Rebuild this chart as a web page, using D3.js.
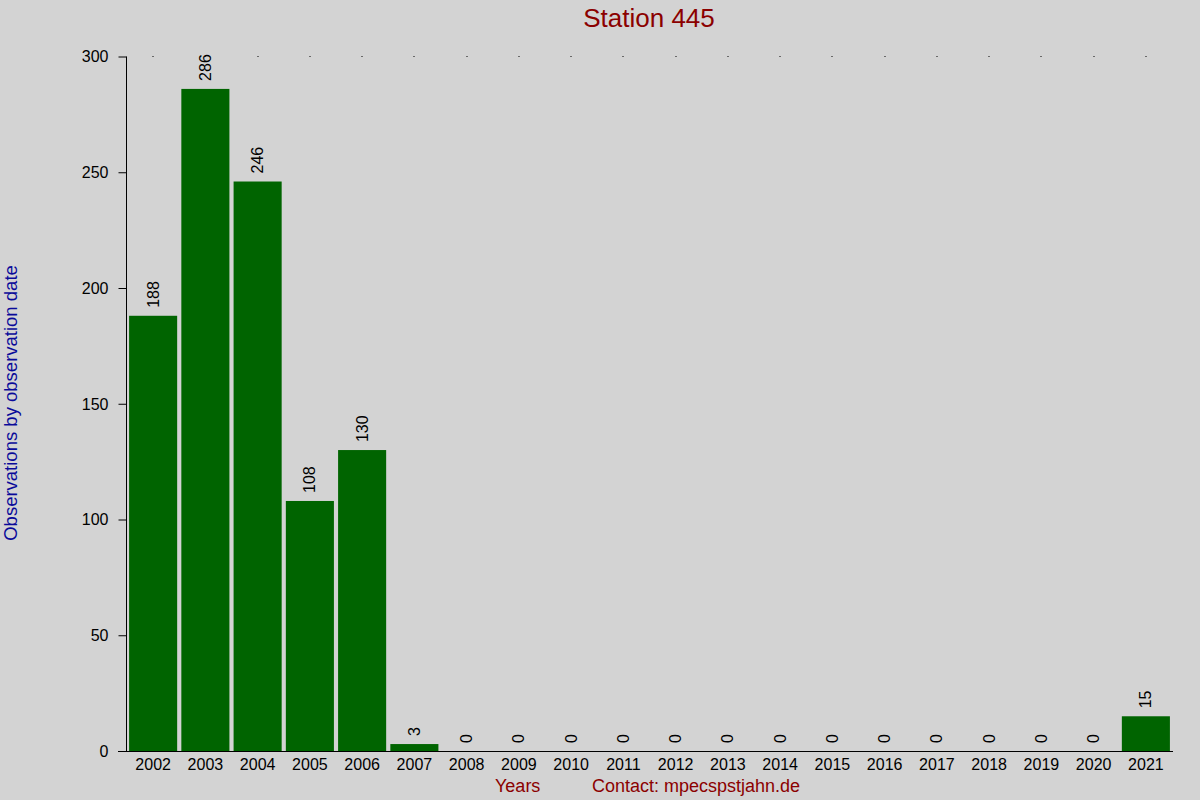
<!DOCTYPE html>
<html><head><meta charset="utf-8">
<script src="https://cdn.jsdelivr.net/npm/d3@7"></script>
<style>
html,body{margin:0;padding:0;background:#d3d3d3;}
text{font-family:"Liberation Sans",Arial,sans-serif;}
</style></head>
<body>
<svg id="chart" width="1200" height="800"></svg>
<script>
const years = ["2002","2003","2004","2005","2006","2007","2008","2009","2010","2011","2012","2013","2014","2015","2016","2017","2018","2019","2020","2021"];
const counts = [188,286,246,108,130,3,0,0,0,0,0,0,0,0,0,0,0,0,0,15];
const yTicks = [0,50,100,150,200,250,300];
const titleText = "Station 445";
const yTitle = "Observations by observation date";
const xTitle = "Years";
const contactText = "Contact: mpecspstjahn.de";

const svg = d3.select("#chart");
svg.append("rect").attr("width",1200).attr("height",800).attr("fill","#d3d3d3");

const x = d3.scaleBand().domain(years).range([127,1172]).paddingInner(0.08).paddingOuter(0.04);
const y = d3.scaleLinear().domain([0,300]).range([751,56.5]);

// bars
svg.append("g").selectAll("rect").data(years).join("rect")
  .attr("x",d=>x(d)).attr("width",x.bandwidth())
  .attr("y",(d,i)=>y(counts[i])).attr("height",(d,i)=>y(0)-y(counts[i]))
  .attr("fill","#006400");

// top dots
svg.append("g").selectAll("rect").data(years).join("rect")
  .attr("x",d=>Math.round(x(d)+x.bandwidth()/2)-0.5).attr("y",56).attr("width",1).attr("height",1)
  .attr("fill","#000");

// y axis
const yAxis = d3.axisLeft(y).tickValues(yTicks).tickSize(8).tickPadding(10).tickFormat(d3.format("d"));
const gy = svg.append("g").attr("transform","translate(126.5,0)").call(yAxis);
gy.select(".domain").attr("d","M0,"+y(300)+"V"+y(0)).attr("stroke","#000");
gy.selectAll(".tick line").attr("stroke","#000");
gy.selectAll(".tick text").attr("font-size","16px").attr("fill","#000").attr("font-family","Liberation Sans, Arial, sans-serif").attr("dy","0.33em");

// x axis
const xAxis = d3.axisBottom(x).tickSize(0).tickPadding(7.5);
const gx = svg.append("g").attr("transform","translate(0,751.5)").call(xAxis);
gx.select(".domain").attr("d","M118,0H1173").attr("stroke","#000");
gx.selectAll(".tick text").attr("font-size","16px").attr("fill","#000").attr("font-family","Liberation Sans, Arial, sans-serif");

// value labels
svg.append("g").selectAll("text").data(years).join("text")
  .attr("transform",(d,i)=>`translate(${x(d)+x.bandwidth()/2},${y(counts[i])-8}) rotate(-90)`)
  .attr("dy","0.35em").attr("text-anchor","start")
  .attr("font-size","16px").attr("fill","#000")
  .text((d,i)=>counts[i]);

// title
svg.append("text").attr("x",649).attr("y",27).attr("text-anchor","middle")
  .attr("font-size","26px").attr("fill","#8b0000").text(titleText);

// y title
svg.append("text").attr("transform","translate(17,403) rotate(-90)").attr("text-anchor","middle")
  .attr("font-size","18.5px").attr("fill","#0a0a9a").text(yTitle);

// x titles
svg.append("text").attr("x",495).attr("y",792).attr("font-size","18px").attr("fill","#8b0000").text(xTitle);
svg.append("text").attr("x",592).attr("y",792).attr("font-size","18px").attr("fill","#8b0000").text(contactText);
</script>
</body></html>
